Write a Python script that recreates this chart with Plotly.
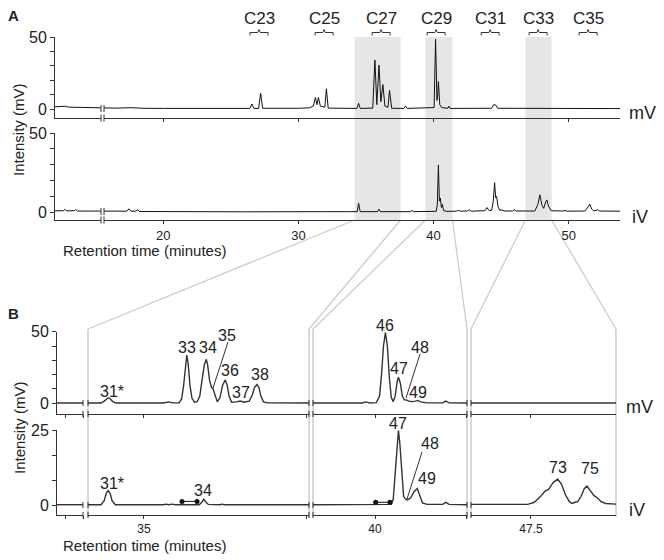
import plotly.graph_objects as go

W, H = 664, 560

# ================= DATA =================
# Panel A: full chromatograms, (retention time [min], intensity)
a_mv = [(11.98, 1.5), (12.7, 1.9), (13.0, 1.3), (13.6, 1.2), (14.5, 0.9), (15.3, 0.7), (16.5, 0.6),
        (17.6, 0.9), (18.5, 0.5), (20.0, 0.4), (22.0, 0.4), (24.0, 0.3), (26.4, 0.4), (26.55, 3.5),
        (26.7, 0.4), (27.05, 0.4), (27.2, 11.0), (27.35, 0.5), (28.5, 0.4), (30.0, 0.5), (30.8, 0.8),
        (31.1, 2.0), (31.26, 8.0), (31.37, 3.0), (31.48, 8.0), (31.62, 2.0), (31.95, 1.2), (32.07, 14.0),
        (32.2, 0.6), (33.0, 0.4), (34.33, 0.4), (34.45, 4.0), (34.57, 0.4), (35.5, 0.6), (35.66, 34.0),
        (35.8, 3.0), (35.96, 30.5), (36.1, 5.0), (36.25, 17.0), (36.4, 2.0), (36.63, 1.2), (36.74, 13.0),
        (36.9, 0.5), (37.8, 0.4), (37.93, 2.0), (38.05, 0.4), (39.5, 0.5), (40.04, 1.0), (40.15, 48.5),
        (40.25, 6.0), (40.3, 9.0), (40.36, 19.0), (40.46, 3.0), (40.6, 1.0), (41.05, 0.5), (41.13, 2.0),
        (41.22, 0.4), (42.0, 0.4), (44.3, 0.5), (44.45, 3.0), (44.6, 2.8), (44.75, 0.5), (46.0, 0.4),
        (48.0, 0.3), (50.0, 0.3), (52.0, 0.3), (53.8, 0.3)]
a_iv = [(11.98, 0.9), (12.6, 1.0), (12.7, 1.8), (12.85, 0.9), (13.4, 1.0), (13.5, 1.7), (13.65, 0.8),
        (14.5, 0.7), (15.3, 0.6), (16.8, 0.6), (17.3, 0.7), (17.45, 2.2), (17.6, 0.7), (17.95, 0.7),
        (18.1, 1.6), (18.25, 0.5), (19.5, 0.4), (22.0, 0.4), (26.0, 0.3), (32.0, 0.4), (32.7, 0.6),
        (33.5, 0.4), (34.35, 0.4), (34.45, 5.7), (34.57, 0.4), (35.85, 0.4), (35.95, 2.0), (36.05, 0.4),
        (38.3, 0.4), (38.4, 1.2), (38.5, 0.4), (40.2, 0.6), (40.28, 5.0), (40.36, 29.8), (40.43, 7.0),
        (40.5, 9.0), (40.58, 3.0), (40.65, 5.0), (40.75, 1.0), (41.0, 0.6), (41.7, 0.7), (41.85, 1.2),
        (42.0, 0.7), (42.5, 0.8), (42.64, 1.6), (42.8, 0.7), (43.8, 1.0), (43.95, 3.0), (44.1, 1.2),
        (44.3, 1.2), (44.42, 7.0), (44.52, 18.6), (44.6, 9.0), (44.67, 10.0), (44.77, 3.5), (44.9, 1.2),
        (45.0, 1.6), (45.1, 1.2), (45.25, 0.8), (45.85, 0.8), (45.98, 1.6), (46.1, 0.8), (46.4, 0.8),
        (46.5, 1.1), (46.6, 0.8), (47.5, 0.8), (47.72, 5.0), (47.87, 11.0), (48.02, 4.5), (48.15, 2.5),
        (48.3, 6.5), (48.39, 7.8), (48.5, 4.0), (48.7, 1.0), (49.6, 0.8), (49.73, 1.2), (49.86, 0.7),
        (51.2, 0.8), (51.45, 3.5), (51.56, 5.2), (51.7, 2.0), (51.85, 1.0), (52.05, 1.2), (52.15, 1.6),
        (52.3, 0.8), (53.8, 0.7)]

# Panel A: highlighted windows (min) and carbon-number groups (centre time, min)
a_windows = [(34.15, 37.56), (39.4, 41.4), (46.8, 48.74)]
c_names = ["C23", "C25", "C27", "C29", "C31", "C33", "C35"]
c_times = [27.08, 31.9, 36.12, 40.19, 44.19, 47.74, 51.44]

# Panel B: expanded windows (time range of each axis segment, min)
b_ranges = [(12.0, 12.4), (34.14, 37.54), (39.046, 41.415), (46.577, 48.808)]
b_ticks = [[12.123, 12.4], [35.0, 37.5], [40.0, 41.4], [47.5]]
b_ticktext = [["", ""], ["35", ""], ["40", ""], ["47.5"]]

# Panel B, mV trace per segment
b_mv = [
    [(12.0, 0.2), (12.4, 0.2)],
    [(34.14, 0.2), (34.34, 0.2), (34.39, 1.5), (34.43, 3.5), (34.45, 3.9), (34.48, 3.2), (34.52, 1.2),
     (34.57, 0.2), (35.1, 0.2), (35.14, 0.7), (35.18, 0.2), (35.25, 0.7), (35.3, 0.2), (35.38, 1.0),
     (35.44, 0.3), (35.54, 0.3), (35.58, 3.0), (35.61, 12.0), (35.64, 28.0), (35.66, 33.7), (35.68, 28.0),
     (35.71, 12.0), (35.74, 3.5), (35.78, 0.8), (35.82, 1.2), (35.86, 5.0), (35.9, 18.0), (35.93, 27.0),
     (35.96, 30.7), (35.98, 27.0), (36.01, 16.0), (36.04, 11.0), (36.06, 10.5), (36.09, 6.0), (36.13, 1.0),
     (36.17, 4.0), (36.21, 12.5), (36.25, 16.3), (36.28, 13.0), (36.31, 5.0), (36.35, 0.8), (36.42, 1.0),
     (36.48, 1.6), (36.54, 0.8), (36.62, 1.5), (36.67, 6.0), (36.7, 11.0), (36.74, 13.2), (36.77, 11.0),
     (36.8, 5.0), (36.84, 1.0), (36.9, 0.3), (37.54, 0.2)],
    [(39.046, 0.2), (39.8, 0.2), (39.86, 1.0), (39.92, 0.2), (40.02, 0.5), (40.07, 5.0), (40.1, 20.0),
     (40.13, 40.0), (40.16, 49.3), (40.19, 40.0), (40.22, 18.0), (40.25, 4.0), (40.28, 1.2), (40.31, 5.0),
     (40.34, 15.0), (40.36, 18.2), (40.39, 14.0), (40.42, 5.0), (40.45, 2.5), (40.48, 2.4), (40.52, 1.5),
     (40.57, 1.2), (40.62, 1.5), (40.66, 2.0), (40.7, 1.0), (40.8, 0.3), (41.04, 0.3), (41.09, 1.5),
     (41.14, 0.3), (41.415, 0.2)],
    [(46.577, 0.2), (47.9, 0.2), (47.93, 0.5), (47.96, 0.2), (48.4, 0.2), (48.43, 0.5), (48.46, 0.2),
     (48.808, 0.2)],
]
# Panel B, iV trace per segment
b_iv = [
    [(12.0, 0.2), (12.4, 0.2)],
    [(34.14, 0.2), (34.34, 0.2), (34.39, 1.5), (34.42, 4.0), (34.45, 4.85), (34.48, 4.0), (34.51, 1.5),
     (34.56, 0.2), (35.3, 0.2), (35.34, 0.4), (35.38, 0.2), (35.44, 0.4), (35.48, 0.2), (35.85, 0.2),
     (35.89, 1.0), (35.92, 2.0), (35.95, 1.2), (35.99, 0.3), (36.17, 0.2), (36.2, 0.4), (36.24, 0.2),
     (36.7, 0.2), (36.74, 0.4), (36.78, 0.2), (37.54, 0.2)],
    [(39.046, 0.2), (40.25, 0.3), (40.28, 2.0), (40.31, 10.0), (40.34, 21.0), (40.36, 24.8), (40.38, 21.0),
     (40.41, 10.0), (40.44, 3.0), (40.47, 2.0), (40.5, 1.8), (40.55, 2.5), (40.6, 4.5), (40.65, 5.6),
     (40.69, 3.5), (40.73, 0.8), (40.8, 0.3), (41.04, 0.3), (41.09, 1.0), (41.14, 0.3), (41.415, 0.2)],
    [(46.577, 0.3), (47.45, 0.3), (47.55, 1.0), (47.65, 3.0), (47.72, 4.8), (47.77, 5.3), (47.84, 7.5),
     (47.91, 8.7), (47.97, 7.0), (48.03, 3.5), (48.09, 1.2), (48.13, 0.6), (48.18, 1.0), (48.22, 1.2),
     (48.27, 3.0), (48.32, 5.5), (48.36, 6.4), (48.41, 5.0), (48.47, 3.2), (48.52, 2.5), (48.58, 1.2),
     (48.65, 0.6), (48.72, 0.5), (48.808, 0.4)],
]
# retention-shift markers on iV trace (segment index, start, end, level)
b_shifts = [(1, 35.586, 35.817, 1.3), (2, 40.01, 40.23, 1.0)]

# peak labels
b_labels_mv = ["31*", "33", "34", "35", "36", "37", "38", "46", "47", "48", "49"]
b_labels_iv = ["31*", "34", "47", "48", "49", "73", "75"]

# ================= LAYOUT HELPERS =================
def px(x):
    return x / W


def py(y):
    return 1 - y / H


AX = "#333333"
TXT = "#222222"
FONT = "Liberation Sans, Arial, sans-serif"
A_PX = (55, 620)
A_T = (11.98, 53.8)


def a_px(t):
    return A_PX[0] + (t - A_T[0]) / (A_T[1] - A_T[0]) * (A_PX[1] - A_PX[0])


B_PX = [(57, 83), (88, 309), (313, 467), (471, 616)]

fig = go.Figure()


def add_line(pairs, xa, ya, color, width):
    fig.add_trace(go.Scatter(x=[p[0] for p in pairs], y=[p[1] for p in pairs], xaxis=xa, yaxis=ya,
                             mode="lines", line=dict(color=color, width=width),
                             hoverinfo="skip", showlegend=False))


add_line(a_mv, "x", "y", "#111111", 1)
add_line(a_iv, "x2", "y2", "#111111", 1)
for i in range(4):
    add_line(b_mv[i], "x%d" % (3 + i), "y3", "#333333", 1.4)
    add_line(b_iv[i], "x%d" % (7 + i), "y4", "#333333", 1.4)
for sg, t0, t1, lev in b_shifts:
    fig.add_trace(go.Scatter(x=[t0, t1], y=[lev, lev], xaxis="x%d" % (7 + sg), yaxis="y4",
                             mode="lines+markers", line=dict(color="#111111", width=1),
                             marker=dict(size=5, color="#111111"), hoverinfo="skip", showlegend=False))


def xax(dom, rng, anchor, tv, tt, labels, fsize):
    return dict(domain=[px(dom[0]), px(dom[1])], range=list(rng), anchor=anchor, showline=True,
                linecolor=AX, linewidth=1, ticks="outside", ticklen=3, tickwidth=1, tickcolor=AX,
                tickvals=tv, ticktext=tt, showticklabels=labels, automargin=False,
                tickfont=dict(size=fsize, color=TXT, family=FONT),
                showgrid=False, zeroline=False, fixedrange=True)


def yax(top, bottom, rng, anchor, tv, tt):
    return dict(domain=[py(bottom), py(top)], range=list(rng), anchor=anchor, showline=True,
                linecolor=AX, linewidth=1, ticks="outside", ticklen=4, tickwidth=1, tickcolor=AX,
                tickvals=tv, ticktext=tt, tickfont=dict(size=16, color=TXT, family=FONT),
                automargin=False, showgrid=False, zeroline=False, fixedrange=True)


layout = dict(width=W, height=H, autosize=False, margin=dict(l=0, r=0, t=0, b=0, pad=0),
              paper_bgcolor="white", plot_bgcolor="rgba(0,0,0,0)", showlegend=False,
              font=dict(family=FONT, color=TXT))
a_tv = [20, 30, 40, 50]
layout["xaxis"] = xax(A_PX, A_T, "y", a_tv, ["", "", "", ""], False, 13)
layout["xaxis2"] = xax(A_PX, A_T, "y2", a_tv, ["20", "30", "40", "50"], True, 13)
layout["yaxis"] = yax(37, 118, (-6.25, 50), "x", [0, 10, 20, 30, 40, 50], ["0", "", "", "", "", "50"])
layout["yaxis2"] = yax(133, 220, (-4.86, 50), "x2", [0, 10, 20, 30, 40, 50], ["0", "", "", "", "", "50"])
for i in range(4):
    layout["xaxis%d" % (3 + i)] = xax(B_PX[i], b_ranges[i], "y3", b_ticks[i],
                                      ["" for _ in b_ticks[i]], False, 12)
    layout["xaxis%d" % (7 + i)] = xax(B_PX[i], b_ranges[i], "y4", b_ticks[i], b_ticktext[i], True, 12)
layout["yaxis3"] = yax(331.7, 414, (-7.47, 50), "x3", [0, 10, 20, 30, 40, 50], ["0", "", "", "", "", "50"])
layout["yaxis4"] = yax(430, 515, (-3.22, 25), "x7", [0, 25 / 3, 50 / 3, 25], ["0", "", "", "25"])

shapes = []
annotations = []


def seg(x0, y0, x1, y1, color, width, layer="above"):
    shapes.append(dict(type="line", xref="paper", yref="paper", x0=px(x0), y0=py(y0), x1=px(x1), y1=py(y1),
                       line=dict(color=color, width=width), layer=layer))


def text(x, y, s, size, bold=False, angle=0, xanchor="center"):
    annotations.append(dict(xref="paper", yref="paper", x=px(x), y=py(y), text=("<b>%s</b>" % s) if bold else s,
                            showarrow=False, xanchor=xanchor, yanchor="middle", textangle=angle,
                            borderpad=0, font=dict(size=size, color=TXT, family=FONT)))


# shaded windows in A
for t0, t1 in a_windows:
    shapes.append(dict(type="rect", xref="x", yref="paper", x0=t0, x1=t1, y0=py(220), y1=py(37),
                       fillcolor="#e6e6e6", line=dict(width=0), layer="below"))

# zoom connector lines
GRAY = "#cccccc"
win_px = [(a_px(t0), a_px(t1)) for t0, t1 in a_windows]
seg(win_px[0][0], 220, 88, 329, GRAY, 1.3, "below")
seg(win_px[0][1], 220, 309, 329, GRAY, 1.3, "below")
seg(win_px[1][0], 220, 313, 329, GRAY, 1.3, "below")
seg(win_px[1][1], 220, 467, 329, GRAY, 1.3, "below")
seg(win_px[2][0], 220, 471, 329, GRAY, 1.3, "below")
seg(win_px[2][1], 220, 616, 329, GRAY, 1.3, "below")
for xv in [88, 309, 313, 467, 471, 616]:
    seg(xv, 329, xv, 517, GRAY, 1.5, "below")

# axis breaks in A
for yl in [108.5, 118, 211.5, 220]:
    shapes.append(dict(type="rect", xref="paper", yref="paper", x0=px(101), x1=px(104), y0=py(yl + 2),
                       y1=py(yl - 2), fillcolor="white", line=dict(width=0), layer="above"))
    seg(101, yl - 3.5, 101, yl + 3.5, AX, 1)
    seg(104, yl - 3.5, 104, yl + 3.5, AX, 1)
# segment ends in B
for xv in [83, 88, 309, 313, 467, 471]:
    for yl in [403, 414, 505, 515]:
        seg(xv, yl - 3, xv, yl + 3, AX, 1)

# carbon-number brackets and labels
for name, t in zip(c_names, c_times):
    c = a_px(t)
    shapes.append(dict(type="path", xref="paper", yref="paper", layer="above",
                       path="M %f %f L %f %f L %f %f L %f %f L %f %f L %f %f L %f %f" % (
                           px(c - 9), py(35.5), px(c - 9), py(32.5), px(c - 1.2), py(32.5), px(c), py(29.5),
                           px(c + 1.2), py(32.5), px(c + 9), py(32.5), px(c + 9), py(35.5)),
                       line=dict(color=AX, width=1)))
    text(c, 19, name, 17)

# panel letters, axis titles, detector names
text(14, 15, "A", 15, bold=True)
text(14, 313, "B", 15, bold=True)
text(18, 130, "Intensity (mV)", 15, angle=-90)
text(19, 428, "Intensity (mV)", 15, angle=-90)
text(62, 251, "Retention time (minutes)", 15, xanchor="left")
text(62, 545, "Retention time (minutes)", 15, xanchor="left")
text(642, 113, "mV", 18)
text(640, 217, "iV", 18)
text(639, 407, "mV", 18)
text(637, 510, "iV", 18)

# peak labels in B
mv_pos = [(112, 391), (187, 347), (208, 347), (227, 335), (230, 370), (241, 392), (260, 374),
          (385, 325), (399, 368), (420, 347), (418, 392)]
for s, (x, y) in zip(b_labels_mv, mv_pos):
    text(x, y, s, 16)
iv_pos = [(112, 483), (203, 490), (398, 423), (430, 443), (427, 478), (558, 467), (590, 468)]
for s, (x, y) in zip(b_labels_iv, iv_pos):
    text(x, y, s, 16)
# leader lines
seg(228, 342, 213, 388, AX, 1)
seg(420, 354, 406, 398, AX, 1)
seg(422, 452, 407, 499, AX, 1)

layout["shapes"] = shapes
layout["annotations"] = annotations
fig.update_layout(**layout)
fig.write_html("out.html", config={"displayModeBar": False, "staticPlot": True},
               post_script="document.body.style.margin='0px';document.body.style.padding='0px';"
                           "document.body.style.overflow='hidden';")
